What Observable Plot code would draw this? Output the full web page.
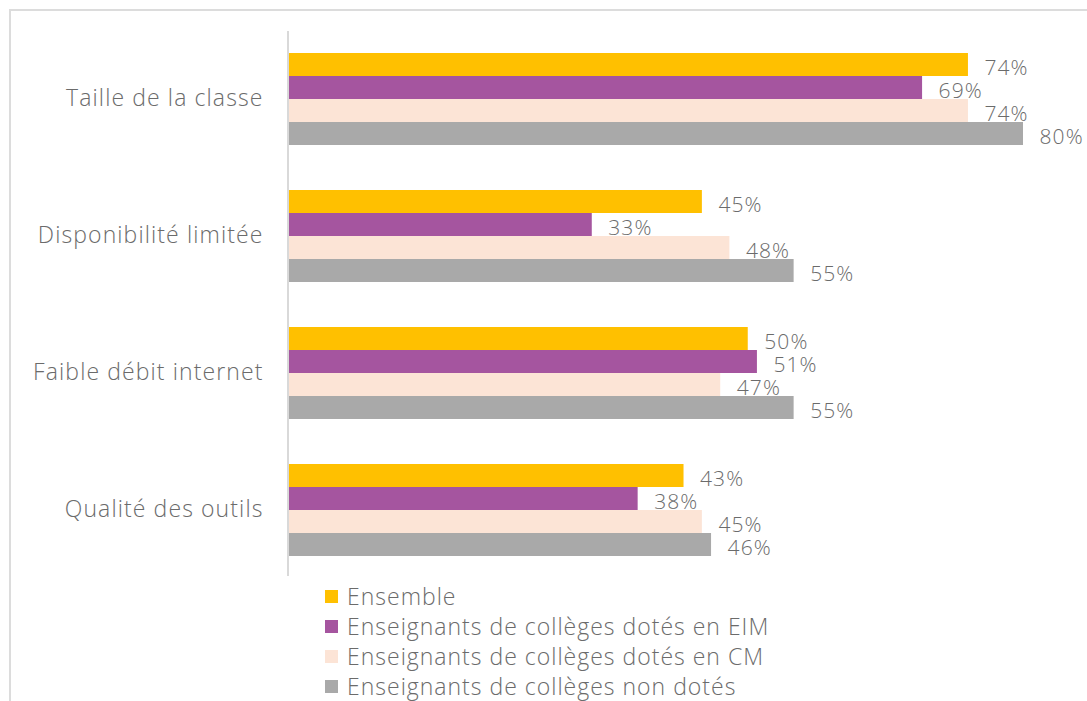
<!DOCTYPE html>
<html><head><meta charset="utf-8">
<script src="https://cdn.jsdelivr.net/npm/d3@7"></script>
<script src="https://cdn.jsdelivr.net/npm/@observablehq/plot@0.6"></script>
<style>
body{margin:0;background:#fff;font-family:"Open Sans", sans-serif;font-weight:300;color:#6b6b6b;}
#wrap{position:relative;width:1087px;height:701px;overflow:hidden;}
#frame{position:absolute;left:9px;top:9px;width:1200px;height:800px;border-top:2px solid #dcdcdc;border-left:2px solid #dcdcdc;}
#chart{position:absolute;left:0;top:0;}
#legend{position:absolute;left:325px;top:581px;}
.item{display:flex;align-items:center;height:30px;font-size:23px;letter-spacing:1px;white-space:nowrap;}
.sw{width:13px;height:13px;margin-right:9px;flex:none;}
</style></head>
<body><div id="wrap"><div id="frame"></div><div id="chart"></div><div id="legend"></div></div>
<script>
const categories = ["Taille de la classe", "Disponibilité limitée", "Faible débit internet", "Qualité des outils"];
const series = ["Ensemble", "Enseignants de collèges dotés en EIM", "Enseignants de collèges dotés en CM", "Enseignants de collèges non dotés"];
const colors = ["#FFC000", "#A5559F", "#FCE4D6", "#A9A9A9"];
const ensemble = [74, 45, 50, 43];
const eim = [69, 33, 51, 38];
const cm = [74, 48, 47, 45];
const nonDotes = [80, 55, 55, 46];

const valuesBySeries = [ensemble, eim, cm, nonDotes];
const data = [];
categories.forEach((c, i) => series.forEach((s, j) => data.push({category: c, series: s, value: valuesBySeries[j][i]})));

const plot = Plot.plot({
  width: 1087, height: 580,
  marginLeft: 289, marginRight: 64, marginTop: 31, marginBottom: 4,
  x: {domain: [0, 80], axis: null},
  fy: {domain: categories, paddingInner: 0.31, paddingOuter: 0.14},
  y: {domain: series, padding: 0, axis: null},
  color: {domain: series, range: colors},
  style: {fontFamily: "'Open Sans', sans-serif", fontWeight: 300, color: "#6b6b6b", background: "transparent"},
  marks: [
    Plot.axisFy({anchor: "left", tickSize: 0, tickPadding: 26, fontSize: 23, label: null, fill: "#6b6b6b"}),
    Plot.barX(data, {x: "value", y: "series", fy: "category", fill: "series"}),
    Plot.text(data, {x: "value", y: "series", fy: "category", text: d => d.value + "%", textAnchor: "start", dx: 16, dy: 3, fontSize: 21, fill: "#6b6b6b"})
  ]
});
const svg = d3.select(plot);
svg.selectAll("text").style("letter-spacing", "1.1px");
const x0 = plot.scale("x").apply(0);
const fr = plot.scale("fy").range;
svg.append("line").attr("x1", x0 - 1).attr("x2", x0 - 1).attr("y1", fr[0]).attr("y2", fr[1])
  .attr("stroke", "#d9d9d9").attr("stroke-width", 2);
document.getElementById("chart").appendChild(plot);

const leg = d3.select("#legend");
series.forEach((s, i) => {
  const it = leg.append("div").attr("class", "item");
  it.append("div").attr("class", "sw").style("background", colors[i]);
  it.append("span").text(s);
});
</script>
</body></html>
